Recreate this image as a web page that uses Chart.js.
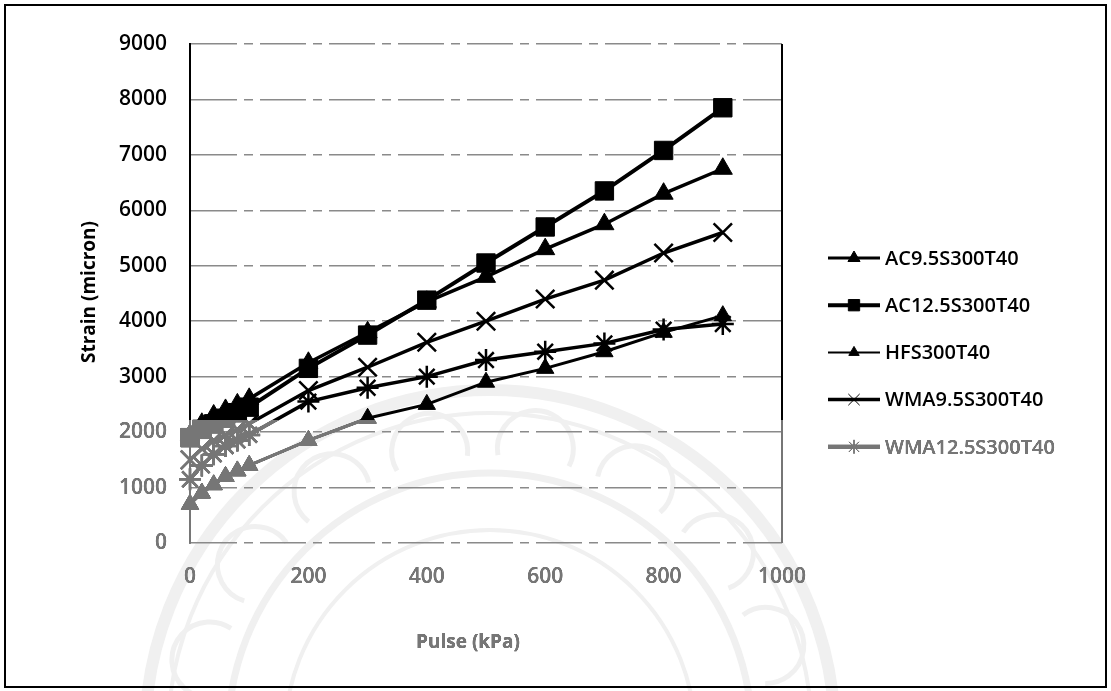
<!DOCTYPE html>
<html>
<head>
<meta charset="utf-8">
<title>Strain vs Pulse</title>
<script src="https://cdn.jsdelivr.net/npm/chart.js@4/dist/chart.umd.min.js"></script>
<style>
  html, body { margin: 0; padding: 0; background: #fff; }
  #wrap { width: 1111px; height: 691px; }
</style>
</head>
<body>
<div id="wrap"><canvas id="strainChart" width="1111" height="691"></canvas></div>
<script>
// pulse stress levels (kPa)
const pulse = [0, 20, 40, 60, 80, 100, 200, 300, 400, 500, 600, 700, 800, 900];

// strain (micron) per mix
const ac95   = [1950, 2150, 2300, 2400, 2500, 2600, 3250, 3800, 4350, 4800, 5300, 5750, 6300, 6750];
const ac125  = [1900, 2050, 2150, 2250, 2350, 2450, 3150, 3750, 4380, 5050, 5700, 6350, 7080, 7850];
const hfs    = [700, 900, 1050, 1200, 1300, 1400, 1850, 2250, 2500, 2900, 3150, 3450, 3800, 4100];
const wma95  = [1500, 1700, 1850, 1950, 2050, 2150, 2750, 3170, 3620, 4000, 4400, 4740, 5230, 5600];
const wma125 = [1150, 1400, 1600, 1750, 1850, 1950, 2550, 2800, 3000, 3300, 3450, 3600, 3850, 3950];

const seriesNames = ["AC9.5S300T40", "AC12.5S300T40", "HFS300T40", "WMA9.5S300T40", "WMA12.5S300T40"];
const xTicks = [0, 200, 400, 600, 800, 1000];
const yTicks = [0, 1000, 2000, 3000, 4000, 5000, 6000, 7000, 8000, 9000];

const xy = (vals) => vals.map((v, i) => ({ x: pulse[i], y: v }));

const PLOT = { left: 190, right: 782, top: 44, bottom: 543 };
const W = 1111, H = 691;
const FONT = "'Open Sans', 'Liberation Sans', sans-serif";

// per-series look: chart marker + small legend marker
const looks = [
  { style: "triangle", r: 11, pbw: 1,   lw: 3.5, legR: 7, legPbw: 1, legLw: 3 },
  { style: "rect",     r: 13, pbw: 1,   lw: 4,   legR: 8, legPbw: 1, legLw: 4 },
  { style: "triangle", r: 10, pbw: 1,   lw: 3,   legR: 6, legPbw: 1, legLw: 2 },
  { style: "crossRot", r: 13, pbw: 2.5, lw: 3.5, legR: 8, legPbw: 1, legLw: 3.5 },
  { style: "star",     r: 11, pbw: 2.5, lw: 3.5, legR: 7, legPbw: 1, legLw: 4 },
];
const values = [ac95, ac125, hfs, wma95, wma125];

const datasets = values.map((vals, i) => ({
  label: seriesNames[i],
  data: xy(vals),
  borderColor: "#000",
  backgroundColor: "#000",
  borderWidth: looks[i].lw,
  pointStyle: looks[i].style,
  pointRadius: looks[i].r,
  pointBorderWidth: looks[i].pbw,
  pointBackgroundColor: "#000",
  pointBorderColor: "#000",
  tension: 0,
  clip: false,
}));

// white page + faint seal in the background
const backdrop = {
  id: "backdrop",
  beforeDraw(chart) {
    const ctx = chart.ctx;
    ctx.save();
    ctx.fillStyle = "#fff";
    ctx.fillRect(0, 0, W, H);
    ctx.strokeStyle = "#f0f0f0";
    const cx = 490, cy = 735;
    [[345, 12], [322, 4], [262, 7], [205, 4]].forEach(([r, lw]) => {
      ctx.lineWidth = lw;
      ctx.beginPath();
      ctx.arc(cx, cy, r, Math.PI, 2 * Math.PI);
      ctx.stroke();
    });
    // lotus petals
    ctx.lineWidth = 5;
    for (let a = 195; a <= 345; a += 21) {
      const t = a * Math.PI / 180;
      const px = cx + Math.cos(t) * 290, py = cy + Math.sin(t) * 290;
      ctx.beginPath();
      ctx.arc(px, py, 38, t - 1.9, t + 1.9);
      ctx.stroke();
    }
    ctx.restore();
  }
};

// plot frame, axis titles, legend, washed-out lower band, page border
const decor = {
  id: "decor",
  afterDraw(chart) {
    const ctx = chart.ctx;
    const a = chart.chartArea;
    ctx.save();

    // right edge of plot area
    ctx.strokeStyle = "#000";
    ctx.lineWidth = 2;
    ctx.beginPath();
    ctx.moveTo(a.right, a.top);
    ctx.lineTo(a.right, a.bottom);
    ctx.stroke();

    // axis titles
    ctx.fillStyle = "#000";
    ctx.font = "bold 19px " + FONT;
    ctx.textAlign = "center";
    ctx.textBaseline = "middle";
    ctx.fillText("Pulse (kPa)", 468, 643);
    ctx.save();
    ctx.translate(90, 292);
    ctx.rotate(-Math.PI / 2);
    ctx.fillText("Strain (micron)", 0, 0);
    ctx.restore();

    // legend: line with marker, then label
    chart.data.datasets.forEach((ds, i) => {
      const lk = looks[i];
      const y = 258 + i * 47.2;
      ctx.strokeStyle = "#000";
      ctx.fillStyle = "#000";
      ctx.lineWidth = lk.legLw;
      ctx.beginPath();
      ctx.moveTo(828, y);
      ctx.lineTo(880, y);
      ctx.stroke();
      ctx.lineWidth = lk.legPbw;
      Chart.helpers.drawPoint(ctx, { pointStyle: lk.style, radius: lk.legR, borderWidth: lk.legPbw, rotation: 0 }, 854, y);
      ctx.font = "600 20px " + FONT;
      ctx.textAlign = "left";
      ctx.textBaseline = "middle";
      ctx.fillText(ds.label, 885, y + 1);
    });

    // lower band of the sheet comes out grey
    ctx.globalCompositeOperation = "lighten";
    ctx.fillStyle = "rgb(118,118,118)";
    ctx.fillRect(8, 420, W - 16, H - 428);
    ctx.globalCompositeOperation = "source-over";

    // page border
    ctx.strokeStyle = "#000";
    ctx.lineWidth = 2;
    ctx.strokeRect(5, 5, W - 10, H - 9);
    ctx.restore();
  }
};

new Chart(document.getElementById("strainChart"), {
  type: "line",
  data: { datasets },
  plugins: [backdrop, decor],
  options: {
    responsive: false,
    animation: false,
    devicePixelRatio: 1,
    layout: { padding: { left: 0, right: W - PLOT.right, top: PLOT.top, bottom: 0 } },
    plugins: { legend: { display: false }, tooltip: { enabled: false } },
    scales: {
      x: {
        type: "linear",
        min: xTicks[0],
        max: xTicks[xTicks.length - 1],
        afterBuildTicks: (s) => { s.ticks = xTicks.map(v => ({ value: v })); },
        afterFit: (s) => { s.height = H - PLOT.bottom; },
        ticks: { color: "#000", padding: 21, font: { family: FONT, size: 21, weight: "600" }, callback: (v) => String(v) },
        grid: { display: false, drawTicks: false },
        border: { display: false },
      },
      y: {
        min: yTicks[0],
        max: yTicks[yTicks.length - 1],
        afterBuildTicks: (s) => { s.ticks = yTicks.map(v => ({ value: v })); },
        afterFit: (s) => { s.width = PLOT.left; },
        ticks: { color: "#000", padding: 23, font: { family: FONT, size: 21, weight: "600" }, callback: (v) => String(v) },
        grid: { color: "#8a8a8a", lineWidth: 1.5, drawTicks: false },
        border: { display: true, color: "#000", width: 2, dash: [46, 7, 9, 7] },
      },
    },
  },
});
</script>
</body>
</html>
